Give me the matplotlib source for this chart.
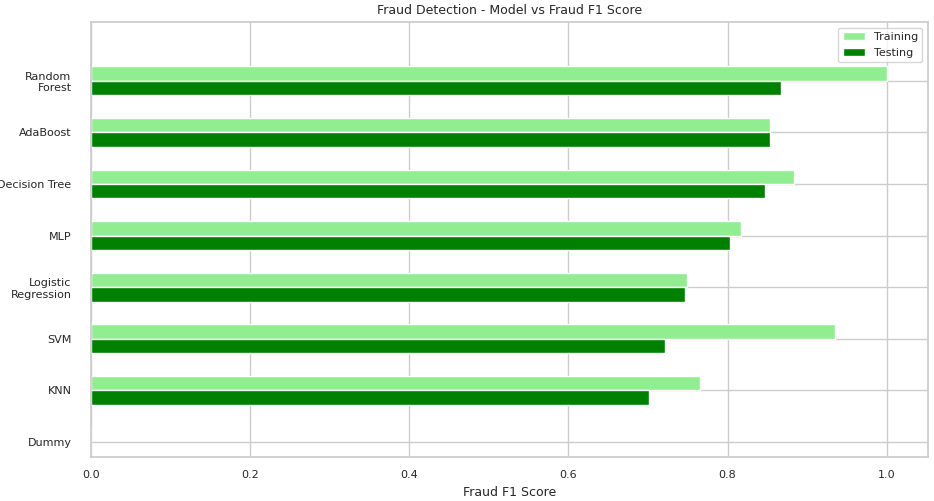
import numpy as np
import matplotlib
matplotlib.use("Agg")
import matplotlib.pyplot as plt
import seaborn as sns

sns.set_theme(style="whitegrid")

models = ["Dummy", "KNN", "SVM", "Logistic\nRegression", "MLP",
          "Decision Tree", "AdaBoost", "Random\nForest"]
train_f1 = [0.0, 0.766, 0.935, 0.749, 0.817, 0.884, 0.853, 1.0]
test_f1 = [0.0, 0.701, 0.722, 0.747, 0.803, 0.847, 0.854, 0.867]

fig = plt.figure(figsize=(9.34, 5.01), dpi=100)
ax = fig.add_axes([91 / 934, 44 / 501, 837 / 934, 435 / 501])

y = np.arange(len(models))
h = 0.28
ax.barh(y + h / 2, train_f1, height=h, color="lightgreen", label="Training")
ax.barh(y - h / 2, test_f1, height=h, color="green", label="Testing")

ax.set_yticks(y)
ax.set_yticklabels(models, fontsize=8)
ax.set_xlim(0, 1.052)
ax.set_ylim(-0.29, len(models) - 1 + 1.14)
ax.tick_params(axis="x", labelsize=8)
ax.tick_params(axis="y", pad=8)
ax.set_xlabel("Fraud F1 Score", fontsize=9)
ax.set_title("Fraud Detection - Model vs Fraud F1 Score", fontsize=9)
ax.legend(loc="upper right", fontsize=8)

fig.savefig("out.png", dpi=100)
